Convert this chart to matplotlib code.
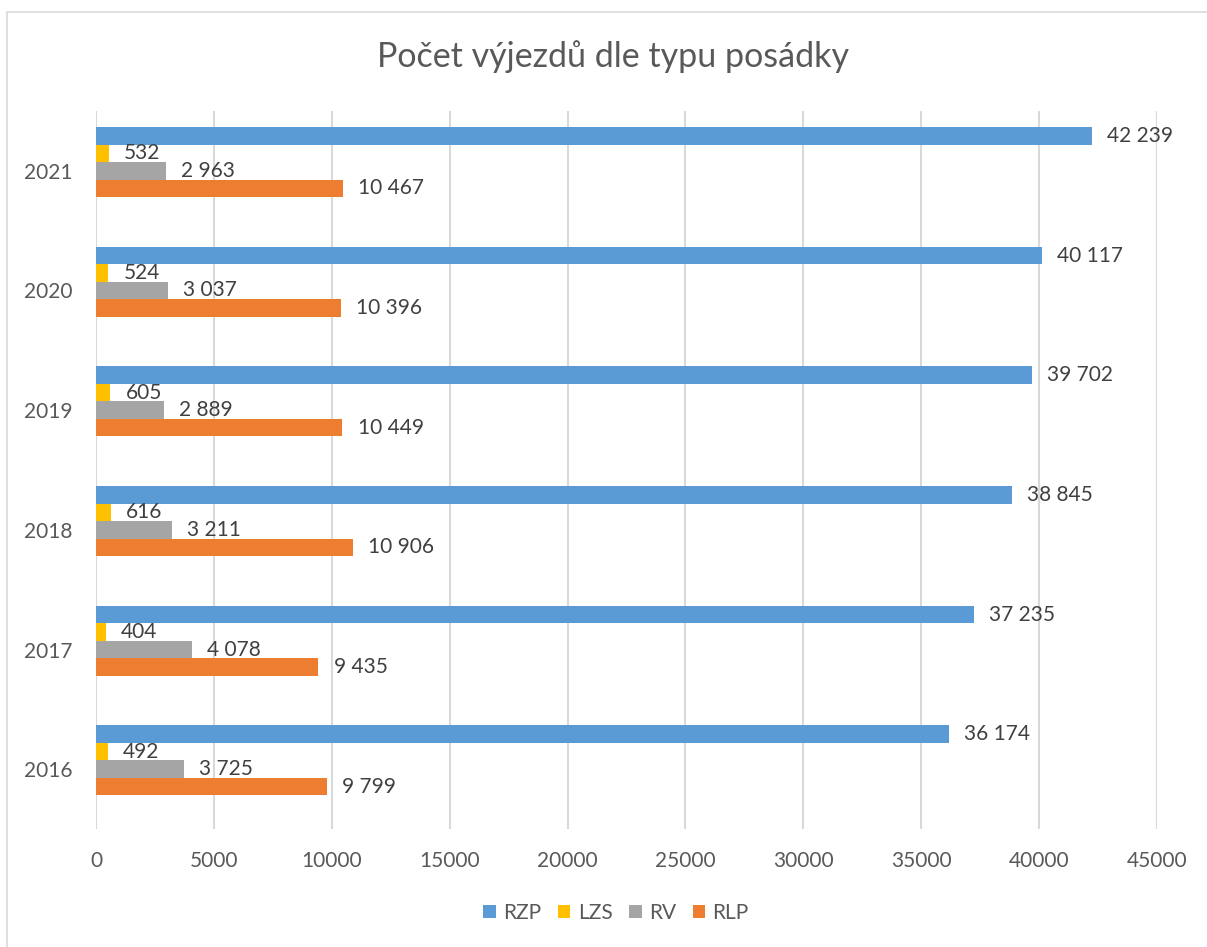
import numpy as np
import matplotlib.pyplot as plt
from matplotlib.patches import Rectangle

years = ['2016', '2017', '2018', '2019', '2020', '2021']
rzp = [36174, 37235, 38845, 39702, 40117, 42239]
lzs = [492, 404, 616, 605, 524, 532]
rv = [3725, 4078, 3211, 2889, 3037, 2963]
rlp = [9799, 9435, 10906, 10449, 10396, 10467]

series_names = ['RZP', 'LZS', 'RV', 'RLP']
series_colors = ['#5B9BD5', '#FFC000', '#A5A5A5', '#ED7D31']

plt.rcParams['font.family'] = ['Lato', 'DejaVu Sans']

W, H = 1207, 947
fig = plt.figure(figsize=(W / 100, H / 100), dpi=100)
# chart-area border: only top and left edges fall inside the picture
fig.patches.append(Rectangle((7 / W, -0.5), 1.5, 1.5 - 12 / H, transform=fig.transFigure,
                             fill=False, edgecolor='#D9D9D9', linewidth=1.2))

ax = fig.add_axes([96 / W, 1 - 829 / H, (1157 - 96) / W, (829 - 111) / H])

y = np.arange(len(years))
h = 0.146
offsets = [2 * h, h, 0, -h]  # 5th (empty) slot at -2h keeps Excel's layout
for vals, name, col, off in zip([rzp, lzs, rv, rlp], series_names, series_colors, offsets):
    bars = ax.barh(y + off, vals, height=h, color=col, label=name)
    ax.bar_label(bars, labels=[f'{v:,}'.replace(',', ' ') for v in vals],
                 padding=11, fontsize=15, color='#404040')

ax.set_xlim(0, 45000)
ax.set_ylim(-0.5, len(years) - 0.5)
ax.set_xticks(np.arange(0, 45001, 5000))
ax.set_yticks(y)
ax.set_yticklabels(years)
ax.grid(axis='x', color='#D9D9D9', linewidth=1.5)
ax.set_axisbelow(True)
for s in ax.spines.values():
    s.set_visible(False)
ax.tick_params(length=0, labelsize=15, labelcolor='#595959')
ax.tick_params(axis='x', pad=16)
ax.tick_params(axis='y', pad=17)

fig.text(613 / W, 1 - 57 / H, 'Počet výjezdů dle typu posádky', ha='center', va='center',
         fontsize=24.5, color='#595959')

fig.legend(loc='center', bbox_to_anchor=(616 / W, 1 - 913 / H), ncol=4, frameon=False,
           fontsize=15, labelcolor='#595959', handlelength=0.6, handleheight=0.6,
           handletextpad=0.35, columnspacing=0.8)

fig.savefig('out.png', dpi=100)
